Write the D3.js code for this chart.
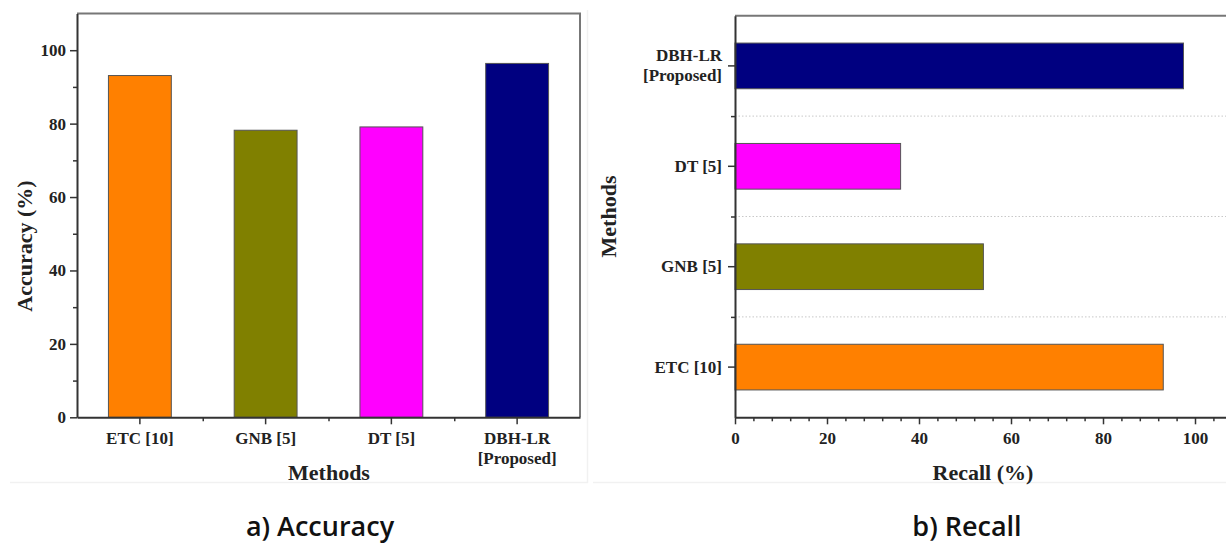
<!DOCTYPE html>
<html>
<head>
<meta charset="utf-8">
<script src="https://cdn.jsdelivr.net/npm/d3@7"></script>
<style>
  html, body { margin: 0; padding: 0; background: #fff; }
  svg { display: block; }
  .tick text { font-family: "Liberation Serif", "Times New Roman", serif; font-weight: bold; fill: #222; }
</style>
</head>
<body>
<svg id="chart" width="1226" height="544"></svg>
<script>
// ---------- data ----------
const accCategories = ["ETC [10]", "GNB [5]", "DT [5]", "DBH-LR\n[Proposed]"];
const accValues = [93.1, 78.2, 79.1, 96.4];
const accColors = ["#FF8000", "#808000", "#FF00FF", "#000080"];
const accTicks = [0, 20, 40, 60, 80, 100];
const accMinorTicks = [10, 30, 50, 70, 90];

const recCategories = ["ETC [10]", "GNB [5]", "DT [5]", "DBH-LR\n[Proposed]"];
const recValues = [93.1, 54.0, 36.0, 97.5];
const recColors = ["#FF8000", "#808000", "#FF00FF", "#000080"];
const recTicks = [0, 20, 40, 60, 80, 100];
const recMinorTicks = [4, 8, 12, 16, 24, 28, 32, 36, 44, 48, 52, 56, 64, 68, 72, 76, 84, 88, 92, 96, 104, 108];

const titles = { accY: "Accuracy (%)", accX: "Methods", recY: "Methods", recX: "Recall (%)",
                 capA: "a) Accuracy", capB: "b) Recall" };

// ---------- setup ----------
const svg = d3.select("#chart");
const serif = '"Liberation Serif", "Times New Roman", serif';
const sans = '"Open Sans", "Noto Sans", sans-serif';
const axisColor = "#333";
const frameColor = "#777";
const titleSize = 22;

function multiline(sel, vertical) {
  sel.each(function() {
    const t = d3.select(this);
    const lines = t.text().split("\n");
    if (lines.length < 2) return;
    const xAttr = t.attr("x") || 0;
    t.text(null);
    lines.forEach((ln, i) => {
      t.append("tspan").attr("x", xAttr)
        .attr("dy", i === 0 ? (vertical ? "-0.28em" : "0.71em") : "1.18em").text(ln);
    });
  });
}

// faint panel outlines (as in the reference scan)
svg.append("path").attr("d", "M10,482.5H587.5V10").attr("fill", "none").attr("stroke", "#f1f1f1").attr("stroke-width", 1.5);
svg.append("path").attr("d", "M593,482.5H1226").attr("fill", "none").attr("stroke", "#f1f1f1").attr("stroke-width", 1.5);

// ================= Left: Accuracy (vertical bars) =================
{
  const x0 = 77, x1 = 580, y0 = 13.5, y1 = 417.3;
  const x = d3.scaleBand().domain(accCategories).range([x0, x1]).paddingInner(0.5).paddingOuter(0.25);
  const xEdge = d3.scaleLinear().domain([0, accCategories.length]).range([x0, x1]);
  const y = d3.scaleLinear().domain([0, 110]).range([y1, y0]);
  const g = svg.append("g");

  g.selectAll("rect.bar").data(accCategories).join("rect")
    .attr("class", "bar")
    .attr("x", d => x(d))
    .attr("width", x.bandwidth())
    .attr("y", (d, i) => y(accValues[i]))
    .attr("height", (d, i) => y(0) - y(accValues[i]))
    .attr("fill", (d, i) => accColors[i])
    .attr("stroke", "#555").attr("stroke-width", 1);

  g.append("path").attr("d", `M${x0},${y0}H${x1}V${y1}`).attr("fill", "none")
    .attr("stroke", frameColor).attr("stroke-width", 2);

  g.append("g").attr("transform", `translate(${x0},0)`)
    .call(d3.axisLeft(y).tickValues(accMinorTicks).tickSize(4).tickFormat(""))
    .call(s => s.select(".domain").remove())
    .call(s => s.selectAll("line").attr("stroke", axisColor).attr("stroke-width", 1.5));
  g.append("g").attr("transform", `translate(${x0},0)`)
    .call(d3.axisLeft(y).tickValues(accTicks).tickSize(7).tickPadding(4).tickSizeOuter(0))
    .call(s => s.select(".domain").attr("stroke", axisColor).attr("stroke-width", 2))
    .call(s => s.selectAll("line").attr("stroke", axisColor).attr("stroke-width", 1.5))
    .call(s => s.selectAll("text").attr("font-size", 17).attr("font-family", serif));

  g.append("g").attr("transform", `translate(0,${y1})`)
    .call(d3.axisBottom(xEdge).tickValues([1, 2, 3]).tickSize(4).tickFormat(""))
    .call(s => s.select(".domain").remove())
    .call(s => s.selectAll("line").attr("stroke", axisColor).attr("stroke-width", 1.5));
  g.append("g").attr("transform", `translate(0,${y1})`)
    .call(d3.axisBottom(x).tickSize(7).tickPadding(8).tickSizeOuter(0))
    .call(s => s.select(".domain").attr("stroke", axisColor).attr("stroke-width", 2))
    .call(s => s.selectAll("line").attr("stroke", axisColor).attr("stroke-width", 1.5))
    .call(s => s.selectAll("text").attr("font-size", 17).attr("font-family", serif).call(multiline, false));

  svg.append("text").attr("transform", `translate(24,246) rotate(-90)`)
    .attr("text-anchor", "middle").attr("dy", "0.35em")
    .attr("font-family", serif).attr("font-weight", "bold").attr("font-size", titleSize).attr("fill", "#222")
    .text(titles.accY);
  svg.append("text").attr("x", 329).attr("y", 480)
    .attr("text-anchor", "middle")
    .attr("font-family", serif).attr("font-weight", "bold").attr("font-size", titleSize).attr("fill", "#222")
    .text(titles.accX);
  svg.append("text").attr("x", 320).attr("y", 536)
    .attr("text-anchor", "middle")
    .attr("font-family", sans).attr("font-weight", 600).attr("font-size", 27).attr("fill", "#111")
    .text(titles.capA);
}

// ================= Right: Recall (horizontal bars) =================
{
  const x0 = 735, x1 = 1241, y0 = 15.7, y1 = 417.3;
  const cats = recCategories.slice().reverse();
  const vals = recValues.slice().reverse();
  const cols = recColors.slice().reverse();
  const y = d3.scaleBand().domain(cats).range([y0, y1]).paddingInner(0.545).paddingOuter(0.2725);
  const yEdge = d3.scaleLinear().domain([0, cats.length]).range([y0, y1]);
  const x = d3.scaleLinear().domain([0, 110]).range([x0, x1]);
  const g = svg.append("g");

  g.selectAll("line.grid").data([1, 2, 3]).join("line")
    .attr("class", "grid")
    .attr("x1", x0).attr("x2", x1)
    .attr("y1", d => yEdge(d)).attr("y2", d => yEdge(d))
    .attr("stroke", "#c8c8c8").attr("stroke-width", 1).attr("stroke-dasharray", "1.5,2");

  g.selectAll("rect.bar").data(cats).join("rect")
    .attr("class", "bar")
    .attr("x", x(0))
    .attr("y", d => y(d))
    .attr("height", y.bandwidth())
    .attr("width", (d, i) => x(vals[i]) - x(0))
    .attr("fill", (d, i) => cols[i])
    .attr("stroke", "#555").attr("stroke-width", 1);

  g.append("path").attr("d", `M${x0},${y0}H${x1}`).attr("fill", "none")
    .attr("stroke", frameColor).attr("stroke-width", 2);

  g.append("g").attr("transform", `translate(${x0},0)`)
    .call(d3.axisLeft(yEdge).tickValues([1, 2, 3]).tickSize(4).tickFormat(""))
    .call(s => s.select(".domain").remove())
    .call(s => s.selectAll("line").attr("stroke", axisColor).attr("stroke-width", 1.5));
  g.append("g").attr("transform", `translate(${x0},0)`)
    .call(d3.axisLeft(y).tickSize(7).tickPadding(6).tickSizeOuter(0))
    .call(s => s.select(".domain").attr("stroke", axisColor).attr("stroke-width", 2))
    .call(s => s.selectAll("line").attr("stroke", axisColor).attr("stroke-width", 1.5))
    .call(s => s.selectAll("text").attr("font-size", 17).attr("font-family", serif).call(multiline, true));

  g.append("g").attr("transform", `translate(0,${y1})`)
    .call(d3.axisBottom(x).tickValues(recMinorTicks).tickSize(4).tickFormat(""))
    .call(s => s.select(".domain").remove())
    .call(s => s.selectAll("line").attr("stroke", axisColor).attr("stroke-width", 1.5));
  g.append("g").attr("transform", `translate(0,${y1})`)
    .call(d3.axisBottom(x).tickValues(recTicks).tickSize(7).tickPadding(8).tickSizeOuter(0))
    .call(s => s.select(".domain").attr("stroke", axisColor).attr("stroke-width", 2))
    .call(s => s.selectAll("line").attr("stroke", axisColor).attr("stroke-width", 1.5))
    .call(s => s.selectAll("text").attr("font-size", 17).attr("font-family", serif));

  svg.append("text").attr("transform", `translate(608,${(y0 + y1) / 2}) rotate(-90)`)
    .attr("text-anchor", "middle").attr("dy", "0.35em")
    .attr("font-family", serif).attr("font-weight", "bold").attr("font-size", titleSize).attr("fill", "#222")
    .text(titles.recY);
  svg.append("text").attr("x", 983).attr("y", 480)
    .attr("text-anchor", "middle")
    .attr("font-family", serif).attr("font-weight", "bold").attr("font-size", titleSize).attr("fill", "#222")
    .text(titles.recX);
  svg.append("text").attr("x", 967).attr("y", 536)
    .attr("text-anchor", "middle")
    .attr("font-family", sans).attr("font-weight", 600).attr("font-size", 27).attr("fill", "#111")
    .text(titles.capB);
}
</script>
</body>
</html>
